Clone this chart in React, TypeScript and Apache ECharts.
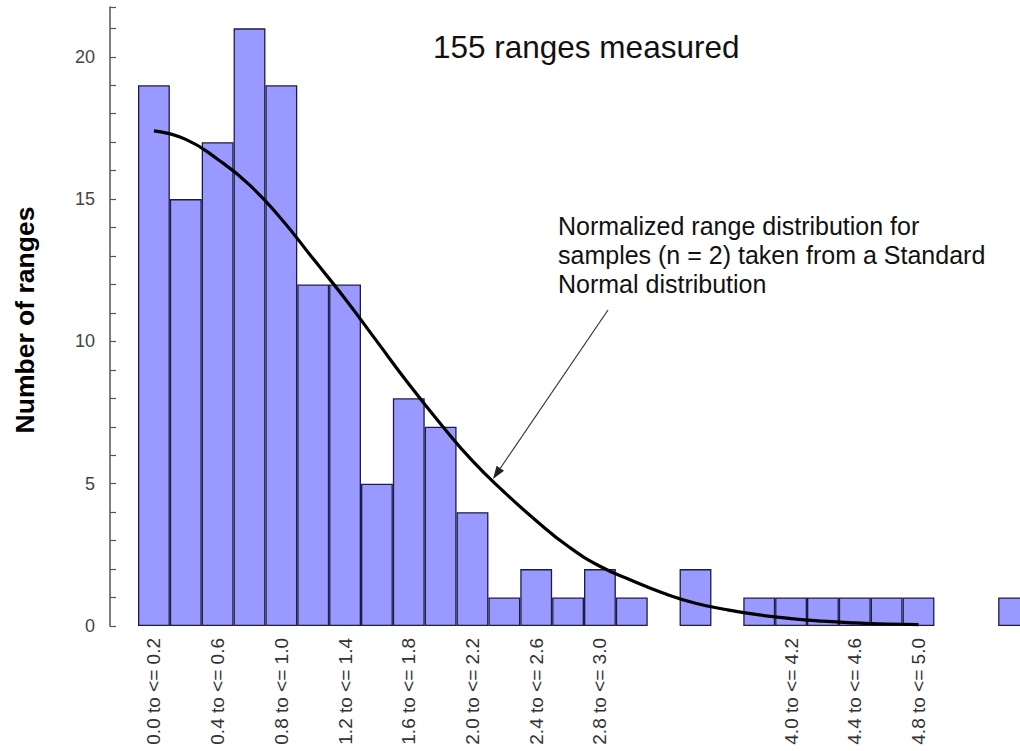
import React, { useEffect, useRef } from "react";
import * as echarts from "echarts";

const categories = [
  "0.0 to <= 0.2", "0.2 to <= 0.4", "0.4 to <= 0.6", "0.6 to <= 0.8", "0.8 to <= 1.0",
  "1.0 to <= 1.2", "1.2 to <= 1.4", "1.4 to <= 1.6", "1.6 to <= 1.8", "1.8 to <= 2.0",
  "2.0 to <= 2.2", "2.2 to <= 2.4", "2.4 to <= 2.6", "2.6 to <= 2.8", "2.8 to <= 3.0",
  "3.0 to <= 3.2", "3.2 to <= 3.4", "3.4 to <= 3.6", "3.6 to <= 3.8", "3.8 to <= 4.0",
  "4.0 to <= 4.2", "4.2 to <= 4.4", "4.4 to <= 4.6", "4.6 to <= 4.8", "4.8 to <= 5.0",
  "5.0 to <= 5.2", "5.2 to <= 5.4", "5.4 to <= 5.6",
];

const shownLabels = [
  "0.0 to <= 0.2", "0.4 to <= 0.6", "0.8 to <= 1.0", "1.2 to <= 1.4", "1.6 to <= 1.8",
  "2.0 to <= 2.2", "2.4 to <= 2.6", "2.8 to <= 3.0", "4.0 to <= 4.2", "4.4 to <= 4.6",
  "4.8 to <= 5.0",
];

const counts = [
  19, 15, 17, 21, 19, 12, 12, 5, 8, 7, 4, 1, 2, 1, 2, 1, 0, 2, 0, 1, 1, 1, 1, 1, 1, 0, 0, 1,
];

const expected = [
  17.4, 17.1, 16.4, 15.5, 14.3, 12.9, 11.5, 10.0, 8.5, 7.1, 5.8, 4.7, 3.7, 2.8, 2.1,
  1.6, 1.15, 0.8, 0.57, 0.39, 0.26, 0.17, 0.11, 0.07, 0.05, null, null, null,
];

const titleText = "155 ranges measured";
const noteLines = [
  "Normalized range distribution for",
  "samples (n = 2) taken from a Standard",
  "Normal distribution",
];
const yTitle = "Number of ranges";

const FONT = "'Liberation Sans', Arial, sans-serif";

export default function App() {
  const ref = useRef<HTMLDivElement>(null);
  useEffect(() => {
    if (!ref.current) return;
    const chart = echarts.init(ref.current, null, { renderer: "svg" });

    const tip = [493, 479];
    const start = [608, 310];
    const dx = tip[0] - start[0];
    const dy = tip[1] - start[1];
    const len = Math.sqrt(dx * dx + dy * dy);
    const ux = dx / len;
    const uy = dy / len;
    const hl = 13;
    const hw = 4.5;
    const bx = tip[0] - hl * ux;
    const by = tip[1] - hl * uy;
    const nx = -uy;
    const ny = ux;

    const barData = counts.map((v) =>
      v === 0 ? { value: v, itemStyle: { borderWidth: 0, opacity: 0 } } : v
    );

    chart.setOption({
      animation: false,
      backgroundColor: "#ffffff",
      grid: {
        left: 138,
        top: 7,
        width: 892,
        height: 619,
        outerBoundsMode: "none",
        containLabel: false,
      },
      xAxis: {
        type: "category",
        data: categories,
        axisLine: { show: false },
        axisTick: { show: false },
        axisLabel: {
          rotate: 90,
          margin: 12,
          fontSize: 19,
          fontFamily: FONT,
          color: "#333",
          interval: (_i: number, v: string) => shownLabels.includes(v),
        },
      },
      yAxis: {
        type: "value",
        min: 0,
        max: 21.75,
        interval: 1,
        offset: 28,
        splitLine: { show: false },
        axisLine: { show: true, lineStyle: { color: "#555", width: 1.5 } },
        axisTick: { show: true, inside: true, length: 6, lineStyle: { color: "#555", width: 1.2 } },
        axisLabel: {
          margin: 15,
          fontSize: 18,
          fontFamily: FONT,
          color: "#444",
          formatter: (v: number) => (v % 5 === 0 ? String(v) : ""),
        },
      },
      series: [
        {
          type: "bar",
          data: barData,
          barCategoryGap: "0%",
          itemStyle: { color: "#9999FF", borderColor: "#1c1c48", borderWidth: 1.3 },
        },
        {
          type: "line",
          data: expected,
          smooth: true,
          symbol: "none",
          z: 5,
          lineStyle: { color: "#000", width: 3.2 },
        },
      ],
      graphic: [
        {
          type: "text",
          x: 433,
          y: 47,
          style: {
            text: titleText,
            font: `31.5px ${FONT}`,
            fill: "#111",
            verticalAlign: "middle",
            textAlign: "left",
          },
        },
        ...noteLines.map((t, i) => ({
          type: "text",
          x: 558,
          y: [226, 255, 284][i],
          style: {
            text: t,
            font: `25px ${FONT}`,
            fill: "#111",
            verticalAlign: "middle",
            textAlign: "left",
          },
        })),
        {
          type: "text",
          x: 25,
          y: 320,
          rotation: Math.PI / 2,
          style: {
            text: yTitle,
            font: `bold 26.5px ${FONT}`,
            fill: "#000",
            verticalAlign: "middle",
            textAlign: "center",
          },
        },
        {
          type: "line",
          shape: { x1: start[0], y1: start[1], x2: bx, y2: by },
          style: { stroke: "#333", lineWidth: 1.2 },
        },
        {
          type: "polygon",
          shape: {
            points: [
              [tip[0], tip[1]],
              [bx + hw * nx, by + hw * ny],
              [bx - hw * nx, by - hw * ny],
            ],
          },
          style: { fill: "#222" },
        },
      ],
    });
    return () => chart.dispose();
  }, []);
  return (
    <div
      ref={ref}
      style={{ position: "fixed", left: 0, top: 0, width: 1020, height: 751, background: "#fff" }}
    />
  );
}
